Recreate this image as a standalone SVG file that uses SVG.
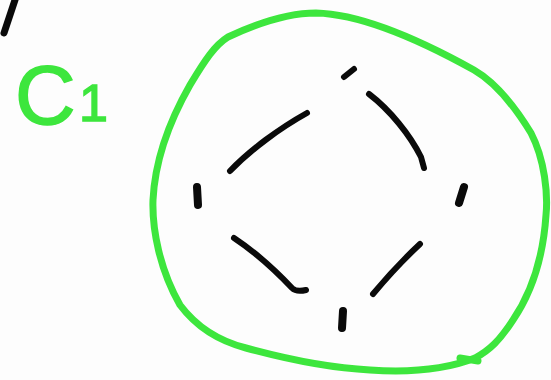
<svg xmlns="http://www.w3.org/2000/svg" width="551" height="380" viewBox="0 0 551 380">
<style>
.g{fill:none;stroke:#3de63d;stroke-width:7;stroke-linecap:round;stroke-linejoin:round}
.k{fill:none;stroke:#0a0a0a;stroke-width:6;stroke-linecap:round;stroke-linejoin:round}
.d{fill:none;stroke:#0a0a0a;stroke-width:8;stroke-linecap:round}
.t{fill:#3de63d;stroke:#3de63d;stroke-width:1.5;font-family:"Liberation Sans",Arial,sans-serif}
</style>
<rect width="551" height="380" fill="#fdfdfd"/>
<g id="stroke-topleft"><path class="k" d="M15,0 L4,33" style="stroke-width:7"/></g>
<g id="label-C1"><text class="t" x="15" y="124" font-size="84">C</text><text class="t" x="79" y="121" font-size="52">1</text></g>
<g id="blob"><path class="g" d="M228,37 C260,22 290,13 316,13 C360,14 420,40 474,70 C500,85 520,115 531,133 C545,160 548,195 546,215 C543,260 530,295 513,320 C500,340 490,350 475,358 C440,372 400,372 370,370 C330,368 290,360 246,348 C215,340 195,325 180,305 C160,270 152,230 153,200 C155,160 170,120 190,85 C205,60 215,45 228,37 Z"/><path class="g" d="M460,358 L478,361"/></g>
<g id="marks">
<path class="k" d="M344,77 L354,69"/>
<path class="k" d="M369,94 C390,110 410,135 421,157 L424,168"/>
<path class="d" d="M197,187 L198,205"/>
<path class="k" d="M230,171 C250,150 280,128 307,113"/>
<path class="d" d="M464,187 L459,203"/>
<path class="k" d="M234,238 C255,252 275,270 292,288 C296,292 302,291 306,290"/>
<path class="k" d="M420,244 C405,258 388,276 373,294"/>
<path class="d" d="M343,311 L342,328"/>
</g>
</svg>
